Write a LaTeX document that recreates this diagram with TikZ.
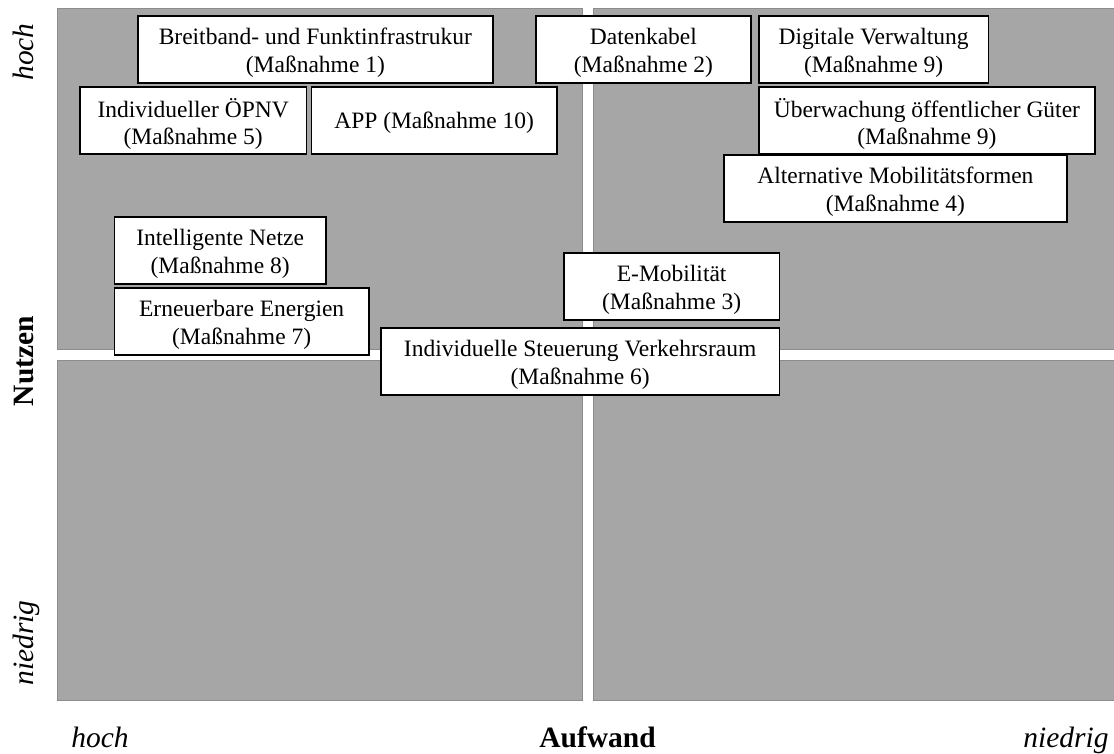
\documentclass[tikz,border=0pt]{standalone}
\usepackage{fontspec}
\setmainfont{Liberation Serif}
\definecolor{qfill}{HTML}{A6A6A6}
\definecolor{qline}{HTML}{8C8C8C}
\begin{document}
\begin{tikzpicture}[x=1pt,y=-1pt,
  qedge/.style={draw=qline, line width=1.5pt},
  box/.style={draw=black, fill=white, line width=1.8pt, inner sep=0pt, anchor=north west, minimum height=67pt},
  txt/.style={align=center, inner sep=0pt, font=\fontsize{23.5}{27.5}\selectfont},
  ax/.style={inner sep=0pt, font=\fontsize{29.5}{32}\selectfont\itshape, anchor=base},
  axb/.style={inner sep=0pt, font=\fontsize{29.5}{32}\selectfont\bfseries, anchor=base}]
\useasboundingbox (0,0) rectangle (1114,754);
% quadrants
\fill[qfill] (57.5,8.5) rectangle (582.5,349.5);
\draw[qedge] (57.5,8.5) rectangle (582.5,349.5);
\fill[qfill] (593.5,8.5) rectangle (1114,349.5);
\draw[qedge] (1114,8.5) -- (593.5,8.5) -- (593.5,349.5) -- (1114,349.5);
\fill[qfill] (57.5,360.5) rectangle (582.5,700.5);
\draw[qedge] (57.5,360.5) rectangle (582.5,700.5);
\fill[qfill] (593.5,360.5) rectangle (1114,700.5);
\draw[qedge] (1114,360.5) -- (593.5,360.5) -- (593.5,700.5) -- (1114,700.5);
% boxes
\node[box, minimum width=355pt] (b1) at (137,15) {};
\node[txt] (t1) at ([yshift=-3.5pt]b1.center) {Breitband- und Funktinfrastrukur\\(Maßnahme 1)};
\node[box, minimum width=215pt] (b2) at (535,15) {};
\node[txt] (t2) at ([yshift=-3.5pt]b2.center) {Datenkabel\\(Maßnahme 2)};
\node[box, minimum width=229.5pt] (b9a) at (758,15) {};
\node[txt] (t9a) at ([yshift=-3.5pt]b9a.center) {Digitale Verwaltung\\(Maßnahme 9)};
\node[box, minimum width=226.5pt] (b5) at (79,86) {};
\node[txt] (t5) at ([yshift=-3.5pt]b5.center) {Individueller ÖPNV\\(Maßnahme 5)};
\node[box, minimum width=245.5pt] (b10) at (310.5,86) {};
\node[txt] (t10) at ([yshift=-2pt]b10.center) {APP (Maßnahme 10)};
\node[box, minimum width=336pt] (b9b) at (758,86) {};
\node[txt] (t9b) at ([yshift=-3.5pt]b9b.center) {Überwachung öffentlicher Güter\\(Maßnahme 9)};
\node[box, minimum width=343pt] (b4) at (723,154) {};
\node[txt] (t4) at ([yshift=-3.5pt]b4.center) {Alternative Mobilitätsformen\\(Maßnahme 4)};
\node[box, minimum width=211.5pt] (b8) at (113.5,216) {};
\node[txt] (t8) at ([yshift=-3.5pt]b8.center) {Intelligente Netze\\(Maßnahme 8)};
\node[box, minimum width=254.5pt] (b7) at (113.5,287) {};
\node[txt] (t7) at ([yshift=-3.5pt]b7.center) {Erneuerbare Energien\\(Maßnahme 7)};
\node[box, minimum width=215.5pt] (b3) at (563,252) {};
\node[txt] (t3) at ([yshift=-3.5pt]b3.center) {E-Mobilität\\(Maßnahme 3)};
\node[box, minimum width=398.5pt] (b6) at (380,327) {};
\node[txt] (t6) at ([yshift=-3.5pt]b6.center) {Individuelle Steuerung Verkehrsraum\\(Maßnahme 6)};
% axis labels
\node[ax, rotate=90] (yhigh) at (33,52) {hoch};
\node[ax, rotate=90] (ylow) at (33,643) {niedrig};
\node[axb, rotate=90] (ylab) at (34,361) {Nutzen};
\node[ax] (xhigh) at (100,747) {hoch};
\node[axb] (xlab) at (597.5,747) {Aufwand};
\node[ax] (xlow) at (1066,747) {niedrig};
\end{tikzpicture}
\end{document}
